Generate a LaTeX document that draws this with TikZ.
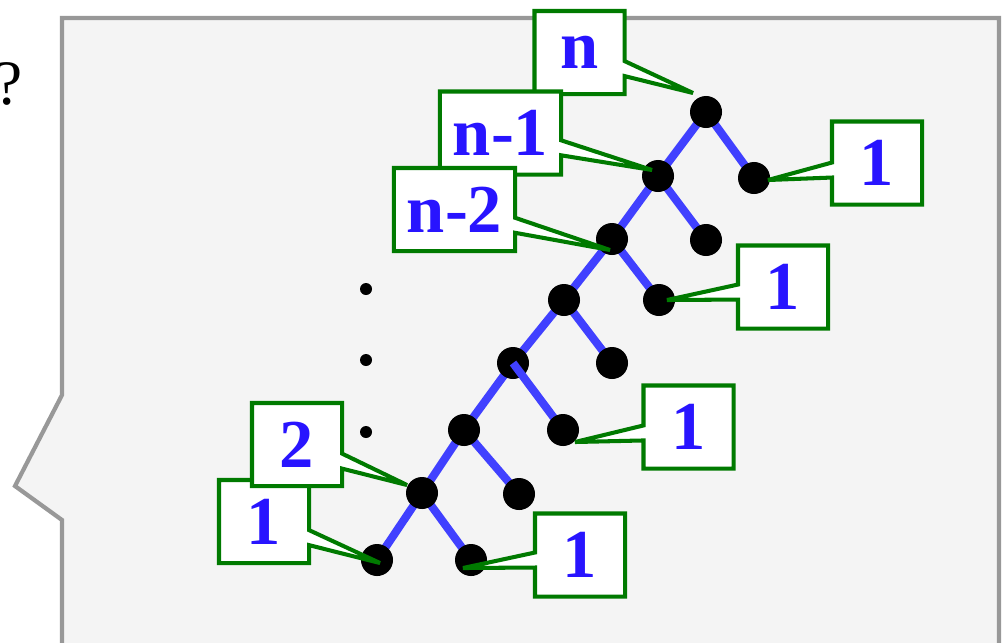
\documentclass[tikz,border=0pt]{standalone}
\usepackage{fontspec}
\setmainfont{Liberation Serif}
\usetikzlibrary{shapes.callouts}

\definecolor{treeblue}{RGB}{64,64,255}
\definecolor{tagblue}{RGB}{40,20,255}
\definecolor{taggreen}{RGB}{0,122,0}
\definecolor{bubblefill}{RGB}{244,244,244}
\definecolor{bubbleline}{RGB}{152,152,152}

\begin{document}
\begin{tikzpicture}[
  x=0.01cm, y=-0.01cm,
  bubble/.style={draw=bubbleline, fill=bubblefill, line width=1.2pt},
  branch/.style={draw=treeblue, line width=2.3pt},
  vertex/.style={circle, fill=black, inner sep=0pt, minimum size=0.32cm},
  pip/.style={circle, fill=black, inner sep=0pt, minimum size=0.12cm},
  tag/.style={rectangle callout, draw=taggreen, fill=white, line width=1.15pt,
    miter limit=4, callout pointer width=0.15cm, minimum width=0.9cm,
    minimum height=0.83cm, inner sep=0pt, text=tagblue,
    font=\bfseries\fontsize{19.5}{22}\selectfont},
  widetag/.style={tag, minimum width=1.21cm}
]
\useasboundingbox (0,0) rectangle (1004,642);

\node[font=\fontsize{18}{20}\selectfont] (qm) at (9,84) {?};

% speech bubble
\draw[bubble] (62,18) -- (999,18) -- (999,680) -- (62,680) -- (62,520)
  -- (15,486) -- (62,395) -- cycle;

% spine of the tree
\coordinate (a0) at (706,112);
\coordinate (a1) at (658,176);
\coordinate (a2) at (612,239);
\coordinate (a3) at (564,300);
\coordinate (a4) at (513,363);
\coordinate (a5) at (464,430);
\coordinate (a6) at (422,493);
\coordinate (a7) at (377,560);
% right leaves
\coordinate (b1) at (754,178);
\coordinate (b2) at (706,240);
\coordinate (b3) at (659,300);
\coordinate (b4) at (612,363);
\coordinate (b5) at (563,430);
\coordinate (b6) at (519,494);
\coordinate (b7) at (471,560);

\draw[branch] (a0) -- (a1) -- (a2) -- (a3) -- (a4) -- (a5) -- (a6) -- (a7);
\draw[branch] (a0) -- (b1);
\draw[branch] (a1) -- (b2);
\draw[branch] (a2) -- (b3);
\draw[branch] (a3) -- (b4);
\draw[branch] (a5) -- (b6);
\draw[branch] (a6) -- (b7);

\node[vertex] (r) at (a0) {};
\node[vertex] (s1) at (a1) {};
\node[vertex] (s2) at (a2) {};
\node[vertex] (s3) at (a3) {};
\node[vertex] (s4) at (a4) {};
\node[vertex] (s5) at (a5) {};
\node[vertex] (s6) at (a6) {};
\node[vertex] (s7) at (a7) {};

\draw[branch] (a4) -- (b5);

\node[vertex] (l1) at (b1) {};
\node[vertex] (l2) at (b2) {};
\node[vertex] (l3) at (b3) {};
\node[vertex] (l4) at (b4) {};
\node[vertex] (l5) at (b5) {};
\node[vertex] (l6) at (b6) {};
\node[vertex] (l7) at (b7) {};

% vertical dots
\node[pip] (d1) at (366,289) {};
\node[pip] (d2) at (366,360) {};
\node[pip] (d3) at (366,432) {};

% labels
\node[tag, callout absolute pointer={([shift={(-13,-19)}]r.center)}] (tn) at (579.5,52.5) {n};
\node[widetag, callout absolute pointer={([shift={(-6,-6)}]s1.center)}] (tn1) at (500.5,133) {n-1};
\node[widetag, callout absolute pointer={([shift={(-2,11)}]s2.center)}] (tn2) at (454.5,209.5) {n-2};
\node[tag, callout absolute pointer={([shift={(14,2)}]l1.center)}] (t1) at (877,163) {1};
\node[tag, callout absolute pointer={([shift={(8,0)}]l3.center)}] (t3) at (783,287) {1};
\node[tag, callout absolute pointer={([shift={(12,12)}]l5.center)}] (t5) at (688.5,427) {1};
\node[tag, callout absolute pointer={([shift={(-8,8)}]l7.center)}] (t7) at (580,555) {1};
\node[tag, callout absolute pointer={([shift={(3,3)}]s7.center)}] (tb) at (264,521.5) {1};
\node[tag, callout absolute pointer={([shift={(-15,-8)}]s6.center)}] (tt) at (297,444.5) {2};

\end{tikzpicture}
\end{document}
